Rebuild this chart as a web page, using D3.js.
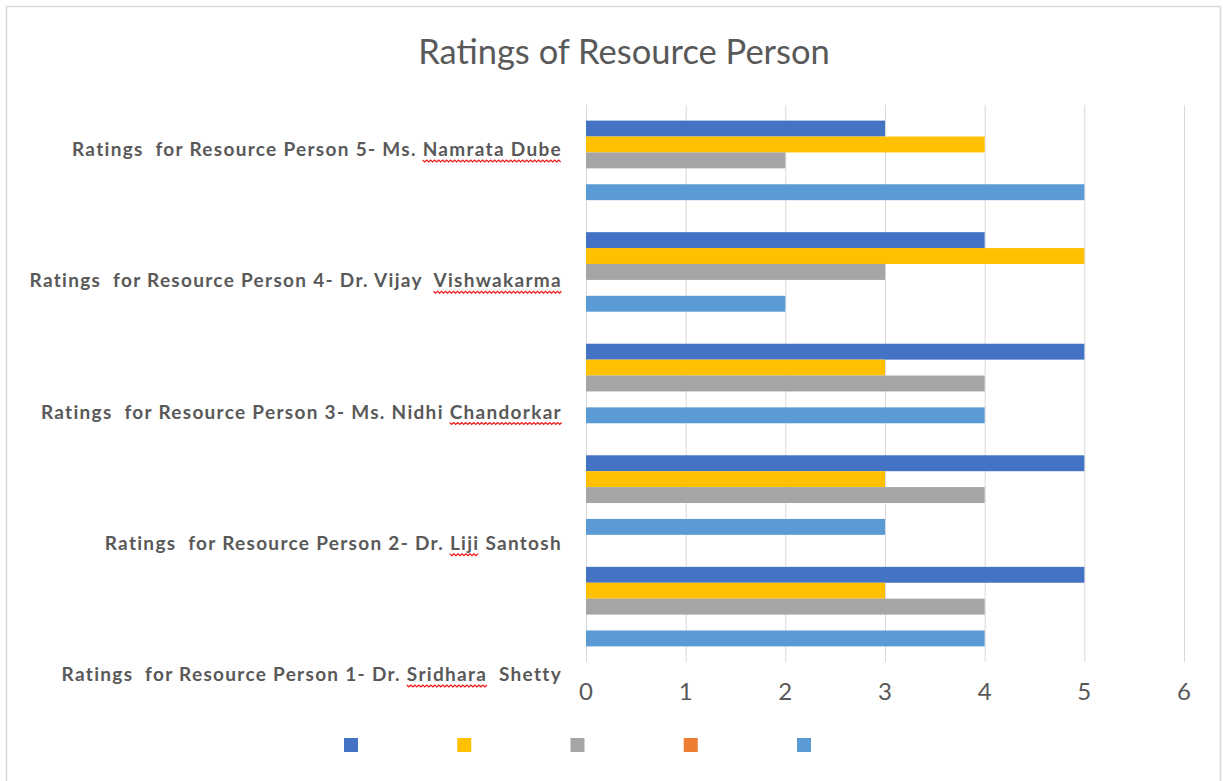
<!DOCTYPE html>
<html>
<head>
<meta charset="utf-8">
<script src="https://cdn.jsdelivr.net/npm/d3@7"></script>
<style>
  html, body { margin: 0; padding: 0; background: #ffffff; }
  svg { display: block; }
  .cat-label { white-space: pre; }
</style>
</head>
<body>
<svg id="chart" width="1223" height="781"></svg>
<script>
// Category labels, bottom to top
const categories = [
  "Ratings  for Resource Person 1- Dr. Sridhara  Shetty",
  "Ratings  for Resource Person 2- Dr. Liji Santosh",
  "Ratings  for Resource Person 3- Ms. Nidhi Chandorkar",
  "Ratings  for Resource Person 4- Dr. Vijay  Vishwakarma",
  "Ratings  for Resource Person 5- Ms. Namrata Dube"
];
// Words flagged by the spell checker in each label
const flaggedWords = [["Sridhara"], ["Liji"], ["Chandorkar"], ["Vishwakarma"], ["Namrata Dube"]];

// Rating values per series, in category order (person 1 .. person 5)
const series1 = [5, 5, 5, 4, 3];
const series2 = [3, 3, 3, 5, 4];
const series3 = [4, 4, 4, 3, 2];
const series4 = [0, 0, 0, 0, 0];
const series5 = [4, 3, 4, 2, 5];
const seriesKeys = ["s1", "s2", "s3", "s4", "s5"];
const seriesColors = ["#4472C4", "#FFC000", "#A5A5A5", "#ED7D31", "#5B9BD5"];

const xTicks = [0, 1, 2, 3, 4, 5, 6];
const titleText = "Ratings of Resource Person";

const seriesValues = [series1, series2, series3, series4, series5];
const rows = categories.map((c, i) => ({
  category: c,
  values: seriesKeys.map((k, j) => ({ key: k, value: seriesValues[j][i], color: seriesColors[j] }))
}));

const svg = d3.select("#chart");
const textColor = "#595959";

// chart frame
svg.append("rect")
  .attr("x", 6.5).attr("y", 6.5)
  .attr("width", 1214).attr("height", 800)
  .attr("fill", "#ffffff")
  .attr("stroke", "#d9d9d9").attr("stroke-width", 1.5);

// title
svg.append("text")
  .attr("x", 624).attr("y", 64)
  .attr("text-anchor", "middle")
  .attr("font-family", "Lato, 'Open Sans', sans-serif")
  .attr("font-size", 34.5)
  .attr("fill", textColor)
  .text(titleText);

const plot = { left: 586, right: 1184, top: 105, bottom: 662 };

const x = d3.scaleLinear().domain([0, 6]).range([plot.left, plot.right]);
const y = d3.scaleBand().domain(categories)
  .range([plot.bottom, plot.top])
  .paddingInner(0.287).paddingOuter(0.14);
const yInner = d3.scaleBand().domain(seriesKeys).range([0, y.bandwidth()]);

// vertical gridlines
svg.append("g").selectAll("line")
  .data(xTicks)
  .join("line")
  .attr("x1", d => x(d) + 0.5).attr("x2", d => x(d) + 0.5)
  .attr("y1", plot.top).attr("y2", plot.bottom)
  .attr("stroke", "#d9d9d9").attr("stroke-width", 1);

// tick labels
svg.append("g").selectAll("text")
  .data(xTicks)
  .join("text")
  .attr("x", d => x(d))
  .attr("y", 700)
  .attr("text-anchor", "middle")
  .attr("font-family", "Lato, 'Open Sans', sans-serif")
  .attr("font-size", 24)
  .attr("fill", textColor)
  .text(d => d);

// bars
const groups = svg.append("g").selectAll("g")
  .data(rows)
  .join("g")
  .attr("transform", d => `translate(0,${y(d.category)})`);

groups.selectAll("rect")
  .data(d => d.values)
  .join("rect")
  .attr("x", x(0))
  .attr("y", d => yInner(d.key))
  .attr("width", d => x(d.value) - x(0))
  .attr("height", yInner.bandwidth())
  .attr("fill", d => d.color);

// category labels, positioned on their own evenly spaced scale
const yLabel = d3.scalePoint().domain(categories).range([675, 150]);
const labelRight = 562;

const labels = svg.append("g").selectAll("text")
  .data(categories)
  .join("text")
  .attr("class", "cat-label")
  .attr("x", labelRight)
  .attr("y", d => yLabel(d) + 6)
  .attr("text-anchor", "end")
  .attr("font-family", "Lato, 'Open Sans', sans-serif")
  .attr("font-weight", 700)
  .attr("font-size", 19)
  .attr("letter-spacing", 1.3)
  .attr("fill", textColor)
  .text(d => d);

// red wavy underlines beneath flagged words
const squiggle = svg.append("g");
labels.each(function (d, i) {
  const node = this;
  const total = node.getComputedTextLength();
  const startX = labelRight - total;
  const baseY = yLabel(d) + 6 + 4;
  flaggedWords[i].forEach(word => {
    const idx = d.indexOf(word);
    if (idx < 0) return;
    const x0 = startX + (idx > 0 ? node.getSubStringLength(0, idx) : 0);
    const w = node.getSubStringLength(idx, word.length);
    const step = 2;
    const pts = [];
    for (let k = 0; k * step <= w; k++) {
      pts.push([x0 + k * step, baseY + (k % 2 === 0 ? 0 : 2)]);
    }
    squiggle.append("path")
      .attr("d", d3.line()(pts))
      .attr("fill", "none")
      .attr("stroke", "#f01818")
      .attr("stroke-width", 1.2);
  });
});

// legend: colour swatches only (series have no names)
const legendX = d3.scalePoint().domain(seriesKeys).range([344, 797]);
svg.append("g").selectAll("rect")
  .data(seriesKeys)
  .join("rect")
  .attr("x", d => legendX(d))
  .attr("y", 738)
  .attr("width", 14).attr("height", 14)
  .attr("fill", (d, i) => seriesColors[i]);
</script>
</body>
</html>
